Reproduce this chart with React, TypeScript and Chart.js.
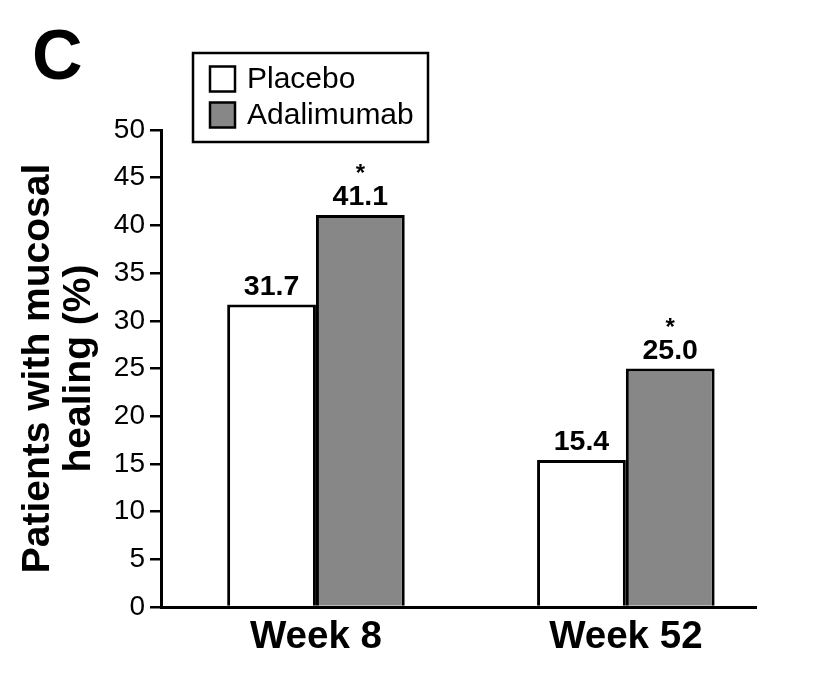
import React, { useEffect, useRef } from 'react';
import { Chart, registerables } from 'chart.js';

Chart.register(...registerables);

// ---- data ----
const categories = ['Week 8', 'Week 52'];
const seriesNames = ['Placebo', 'Adalimumab'];
const placeboValues = [31.7, 15.4];
const adalimumabValues = [41.1, 25.0];
const placeboMarks = ['', ''];
const adalimumabMarks = ['*', '*'];
const yTicks = [0, 5, 10, 15, 20, 25, 30, 35, 40, 45, 50];
const yTitle = ['Patients with mucosal', 'healing (%)'];
const panelLabel = 'C';

const FONT = '"Liberation Sans", Arial, Helvetica, sans-serif';
const seriesColors = ['#ffffff', '#878787'];
const seriesMarks = [placeboMarks, adalimumabMarks];

const decorPlugin = {
  id: 'decor',
  afterDraw(chart: any) {
    const ctx = chart.ctx;
    const area = chart.chartArea;
    ctx.save();
    // panel letter
    ctx.fillStyle = '#000';
    ctx.font = `bold 70px ${FONT}`;
    ctx.textAlign = 'left';
    ctx.textBaseline = 'middle';
    ctx.fillText(panelLabel, 32, 60);

    // legend box
    const lx = area.left + 32;
    const ly = area.top - 77;
    const lw = 235;
    const lh = 89;
    ctx.lineWidth = 2.5;
    ctx.strokeStyle = '#000';
    ctx.fillStyle = '#fff';
    ctx.fillRect(lx, ly, lw, lh);
    ctx.strokeRect(lx, ly, lw, lh);
    chart.data.datasets.forEach((ds: any, i: number) => {
      const cy = ly + 25.5 + i * 36;
      ctx.fillStyle = ds.backgroundColor;
      ctx.lineWidth = 2.5;
      ctx.fillRect(lx + 17, cy - 12, 25, 25);
      ctx.strokeRect(lx + 17, cy - 12, 25, 25);
      ctx.fillStyle = '#000';
      ctx.font = `30px ${FONT}`;
      ctx.textAlign = 'left';
      ctx.textBaseline = 'middle';
      ctx.fillText(ds.label, lx + 54, cy + 1.5);
    });

    // value labels + significance marks
    chart.data.datasets.forEach((ds: any, di: number) => {
      const meta = chart.getDatasetMeta(di);
      meta.data.forEach((el: any, i: number) => {
        const v = ds.data[i].y;
        ctx.fillStyle = '#000';
        ctx.textAlign = 'center';
        ctx.textBaseline = 'alphabetic';
        ctx.font = `bold 28.5px ${FONT}`;
        ctx.fillText(v.toFixed(1), el.x, el.y - 10);
        const mark = seriesMarks[di][i];
        if (mark) {
          ctx.font = `bold 24px ${FONT}`;
          ctx.fillText(mark, el.x, el.y - 34);
        }
      });
    });
    ctx.restore();
  },
};

export default function App() {
  const ref = useRef<HTMLCanvasElement | null>(null);
  useEffect(() => {
    if (!ref.current) return;
    const chart = new Chart(ref.current, {
      type: 'bar',
      data: {
        datasets: [
          {
            label: seriesNames[0],
            data: placeboValues.map((y, i) => ({ x: i, y })),
            backgroundColor: seriesColors[0],
            borderColor: '#000',
            borderWidth: 3,
            categoryPercentage: 0.573,
            barPercentage: 1,
          },
          {
            label: seriesNames[1],
            data: adalimumabValues.map((y, i) => ({ x: i, y })),
            backgroundColor: seriesColors[1],
            borderColor: '#000',
            borderWidth: 3,
            categoryPercentage: 0.573,
            barPercentage: 1,
          },
        ],
      } as any,
      options: {
        animation: false,
        responsive: false,
        layout: { padding: { top: 130, right: 81, left: 0, bottom: 0 } },
        plugins: { legend: { display: false }, tooltip: { enabled: false } },
        scales: {
          x: {
            type: 'linear',
            min: -0.5,
            max: 1.42,
            offset: false,
            afterBuildTicks: (s: any) => {
              s.ticks = categories.map((_, i) => ({ value: i }));
            },
            afterFit: (s: any) => {
              s.height = 89;
            },
            grid: { display: true, drawOnChartArea: false, drawTicks: false },
            border: { display: true, color: '#000', width: 3 },
            ticks: {
              color: '#000',
              padding: 7,
              font: { family: FONT, size: 38.5, weight: 'bold', lineHeight: 1.2 },
              callback: (v: any) => categories[Math.round(Number(v))] ?? '',
            },
          },
          y: {
            min: 0,
            max: 50,
            afterBuildTicks: (s: any) => {
              s.ticks = yTicks.map((v) => ({ value: v }));
            },
            afterFit: (s: any) => {
              s.width = 161;
            },
            grid: {
              display: true,
              drawOnChartArea: false,
              drawTicks: true,
              tickLength: 11,
              color: '#000',
              lineWidth: 2.5,
            },
            border: { display: true, color: '#000', width: 3 },
            ticks: {
              color: '#000',
              padding: 5,
              font: { family: FONT, size: 28 },
            },
            title: {
              display: true,
              text: yTitle,
              color: '#000',
              padding: { top: 18.5, bottom: 0 },
              font: { family: FONT, size: 39, weight: 'bold', lineHeight: 1.03 },
            },
          },
        },
      } as any,
      plugins: [decorPlugin],
    });
    return () => chart.destroy();
  }, []);
  return (
    <div style={{ position: 'absolute', left: 0, top: 0, width: 837, height: 696, background: '#fff' }}>
      <canvas ref={ref} width={837} height={696} />
    </div>
  );
}
